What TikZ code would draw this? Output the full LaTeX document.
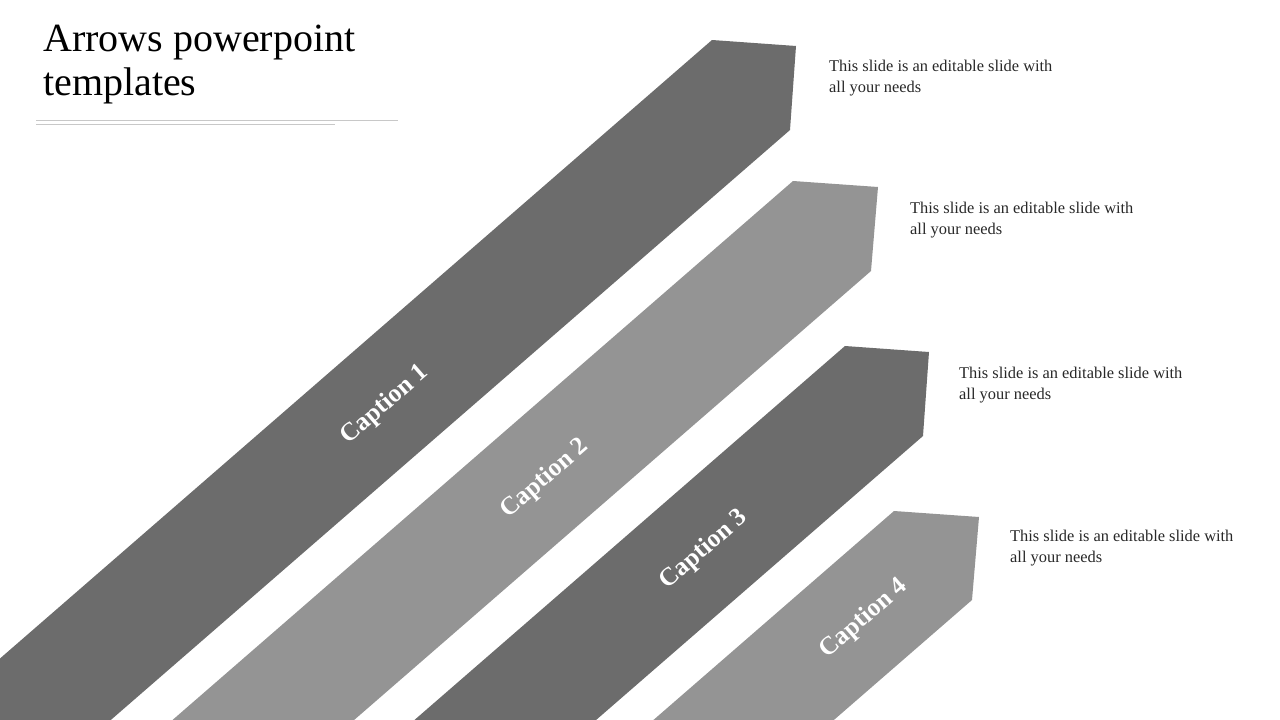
\documentclass[tikz,border=0pt]{standalone}
\usepackage{fontspec}
\setmainfont{Liberation Serif}
\usetikzlibrary{calc}
\definecolor{darkband}{RGB}{108,108,108}
\definecolor{lightband}{RGB}{148,148,148}
\definecolor{rulegray}{RGB}{200,200,200}
\definecolor{bodytext}{RGB}{40,40,40}
\newcommand\bandshape[4]{\fill[#1] #2 -- #3 -- #4 -- ($#4+(-906,787)$) -- ($#2+(-906,787)$) -- cycle;}
\begin{document}
\begin{tikzpicture}[x=1pt,y=-1pt,
  titletext/.style={anchor=base west,inner sep=0pt,font=\fontsize{40}{44}\selectfont,text=black},
  bodyline/.style={anchor=base west,inner sep=0pt,font=\fontsize{16.4}{21}\selectfont,text=bodytext},
  captiontext/.style={rotate=41,inner sep=0pt,text=white,font=\fontsize{25.5}{28}\selectfont\bfseries}]
\useasboundingbox (0,0) rectangle (1280,720);
\fill[white] (0,0) rectangle (1280,720);
\begin{scope}
\clip (0,0) rectangle (1280,720);
\bandshape{darkband}{(712,40)}{(796,46)}{(790,130)}
\bandshape{lightband}{(793,181)}{(878,187)}{(871,271)}
\bandshape{darkband}{(845,346)}{(929,352)}{(923,436)}
\bandshape{lightband}{(894,511)}{(979,517)}{(972,600)}
\end{scope}
% title
\node[titletext] (t1) at (43,51) {Arrows powerpoint};
\node[titletext] (t2) at (43,95) {templates};
\draw[rulegray,line width=0.8pt] (36,120) -- (398,120);
\draw[rulegray,line width=0.8pt] (36,124) -- (335,124);
% captions
\node[captiontext] (c1) at (385,405) {Caption 1};
\node[captiontext] (c2) at (545,479) {Caption 2};
\node[captiontext] (c3) at (704,550) {Caption 3};
\node[captiontext] (c4) at (864,619) {Caption 4};
% descriptions
\node[bodyline] (d1a) at (829,71) {This slide is an editable slide with};
\node[bodyline] (d1b) at (829,92) {all your needs};
\node[bodyline] (d2a) at (910,213) {This slide is an editable slide with};
\node[bodyline] (d2b) at (910,234) {all your needs};
\node[bodyline] (d3a) at (959,378) {This slide is an editable slide with};
\node[bodyline] (d3b) at (959,399) {all your needs};
\node[bodyline] (d4a) at (1010,541) {This slide is an editable slide with};
\node[bodyline] (d4b) at (1010,562) {all your needs};
\end{tikzpicture}
\end{document}
